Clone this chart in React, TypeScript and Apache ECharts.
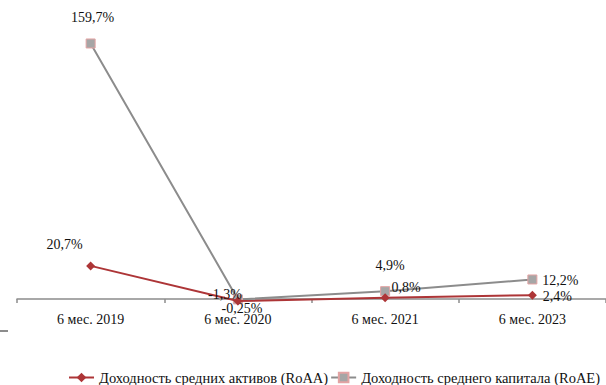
import React, { useEffect, useRef } from "react";
import * as echarts from "echarts";

// Periods along the horizontal axis
const periods = ["6 мес. 2019", "6 мес. 2020", "6 мес. 2021", "6 мес. 2023"];

// Return on average assets, %
const roaa = [20.7, -1.3, 0.8, 2.4];
// Return on average equity, %
const roae = [159.7, -0.25, 4.9, 12.2];

const seriesNames = [
  "Доходность средних активов (RoAA)",
  "Доходность среднего капитала (RoAE)",
];

// Label offsets from each marker centre, in pixels
const roaaLabelOffsets = [
  [-26, -21],
  [-13, -7],
  [21, -10],
  [25, 1],
];
const roaeLabelOffsets = [
  [2, -26],
  [4, 9],
  [5, -26],
  [28, 1],
];

const fmt = (v: number) => String(v).replace(".", ",") + "%";
const FONT = "Times New Roman, Liberation Serif, DejaVu Serif, serif";

export default function App() {
  const ref = useRef<HTMLDivElement>(null);

  useEffect(() => {
    if (!ref.current) return;
    const chart = echarts.init(ref.current, undefined, { renderer: "svg" });

    const mkData = (vals: number[], offsets: number[][]) =>
      vals.map((v, i) => ({
        value: v,
        label: { offset: offsets[i] },
      }));

    const labelStyle = {
      show: true,
      position: "inside",
      formatter: (p: any) => fmt(p.value),
      fontFamily: FONT,
      fontSize: 14,
      color: "#111",
    };

    chart.setOption({
      animation: false,
      backgroundColor: "#ffffff",
      textStyle: { fontFamily: FONT },
      grid: { left: 17, top: 43, width: 592, height: 256 },
      legend: {
        top: 365,
        left: 63,
        itemWidth: 25,
        itemHeight: 12,
        itemGap: 2,
        textStyle: { fontFamily: FONT, fontSize: 14.5, color: "#111" },
        data: seriesNames,
      },
      xAxis: {
        type: "category",
        data: periods,
        boundaryGap: true,
        axisLine: { lineStyle: { color: "#8c8c8c", width: 1.5 } },
        axisTick: {
          show: true,
          length: 4,
          lineStyle: { color: "#8c8c8c", width: 1.5 },
        },
        axisLabel: {
          margin: 13,
          fontFamily: FONT,
          fontSize: 14,
          color: "#111",
          interval: 0,
        },
      },
      yAxis: {
        type: "value",
        min: 0,
        max: 160,
        show: false,
        splitLine: { show: false },
      },
      series: [
        {
          name: seriesNames[0],
          type: "line",
          clip: false,
          z: 3,
          data: mkData(roaa, roaaLabelOffsets),
          symbol: "diamond",
          symbolSize: 9,
          lineStyle: { color: "#ad3537", width: 2 },
          itemStyle: { color: "#ad3537" },
          label: labelStyle,
        },
        {
          name: seriesNames[1],
          type: "line",
          clip: false,
          z: 2,
          data: mkData(roae, roaeLabelOffsets),
          symbol: "rect",
          symbolSize: 9,
          lineStyle: { color: "#8c8c8c", width: 2 },
          itemStyle: {
            color: "#a6a6a6",
            borderColor: "#e3a3a3",
            borderWidth: 1,
          },
          label: labelStyle,
        },
      ],
      graphic: [
        {
          type: "line",
          shape: { x1: 0, y1: 331, x2: 8, y2: 331 },
          style: { stroke: "#8c8c8c", lineWidth: 2 },
        },
      ],
    });

    return () => chart.dispose();
  }, []);

  return (
    <div
      ref={ref}
      style={{ width: 606, height: 385, position: "absolute", left: 0, top: 0 }}
    />
  );
}
